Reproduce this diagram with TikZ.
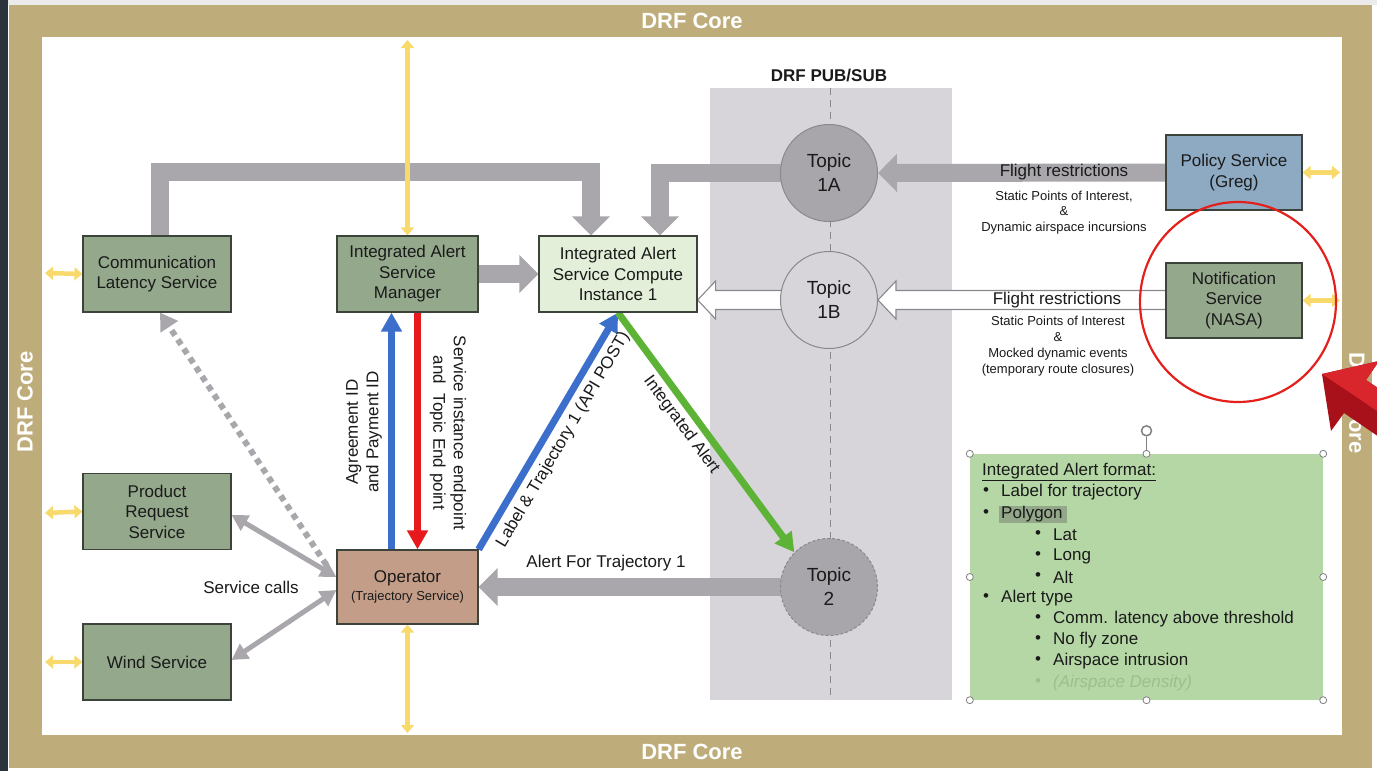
\documentclass[tikz,border=0pt]{standalone}
\usepackage{fontspec}
\setmainfont{Liberation Sans}
\usetikzlibrary{arrows.meta,calc,shapes.geometric}
\pgfdeclarelayer{back}
\pgfdeclarelayer{mid}
\pgfsetlayers{back,mid,main}
\definecolor{gold}{HTML}{BEAD7A}
\definecolor{darkbg}{HTML}{2B333D}
\definecolor{pubsub}{HTML}{D7D4DA}
\definecolor{svcfill}{HTML}{94A88C}
\definecolor{computefill}{HTML}{E3EFD9}
\definecolor{policyfill}{HTML}{8EAAC2}
\definecolor{opfill}{HTML}{C39D87}
\definecolor{boxline}{HTML}{3C433A}
\definecolor{txt}{HTML}{1A1A1A}
\definecolor{arrgray}{HTML}{A9A7AB}
\definecolor{topicdark}{HTML}{A8A6AB}
\definecolor{topicline}{HTML}{8A888D}
\definecolor{blu}{HTML}{3B6FCB}
\definecolor{redarr}{HTML}{E8191C}
\definecolor{grn}{HTML}{5CB335}
\definecolor{yel}{HTML}{F8DA6C}
\definecolor{notefill}{HTML}{B5D7A5}
\definecolor{polyhl}{HTML}{92A889}
\definecolor{faint}{HTML}{9DBF8E}
\definecolor{circred}{HTML}{E3201C}
\definecolor{arrowred}{HTML}{A8111A}
\definecolor{arrowredlt}{HTML}{D8262C}
\newcommand\bxfont{\fontsize{17}{20.5}\selectfont}
\newcommand\smfont{\fontsize{13}{15.8}\selectfont}
\newcommand\tpfont{\fontsize{19}{24}\selectfont}
\newcommand\hollowleft[2]{\draw[hollowst] let \p1=#1, \p2=#2 in (\x1,\y2+9.5pt) -- (\x2+18pt,\y2+9.5pt) -- (\x2+18pt,\y2+19pt) -- (\x2,\y2) -- (\x2+18pt,\y2-19pt) -- (\x2+18pt,\y2-9.5pt) -- (\x1,\y2-9.5pt);}
\begin{document}
\begin{tikzpicture}[x=1pt,y=-1pt,
  svc/.style={draw=boxline, line width=1.2pt, fill=svcfill, align=center, inner sep=0pt,
    minimum width=148pt, minimum height=76pt, font=\bxfont, text=txt},
  topic/.style={circle, draw=topicline, line width=1pt, minimum size=97pt, inner sep=0pt,
    align=center, font=\tpfont, text=txt},
  lbl/.style={font=\bxfont, text=txt, inner sep=1pt, align=center},
  smlbl/.style={font=\smfont, text=txt, inner sep=0pt, align=center},
  frlbl/.style={font=\fontsize{22}{26}\selectfont\bfseries, text=white, inner sep=0pt},
  garrow/.style={draw=arrgray, line width=18pt, -{Triangle[length=19pt,width=37pt]}, line join=miter},
  hollowst/.style={draw=topicline, line width=1.1pt, fill=white, line join=miter},
  barrow/.style={line width=7pt, -{Triangle[length=19pt,width=20pt]}},
  darrow/.style={draw=arrgray, line width=6pt, dash pattern=on 6pt off 5pt, -{Triangle[length=17pt,width=20pt]}},
  scarrow/.style={draw=arrgray, line width=5pt, {Triangle[length=16pt,width=17pt]}-{Triangle[length=16pt,width=17pt]}},
  yarrow/.style={draw=yel, line width=4.5pt, {Triangle[length=8pt,width=13pt]}-{Triangle[length=8pt,width=13pt]}},
  item/.style={anchor=west, font=\bxfont, text=txt, inner sep=0pt},
  handle/.style={circle, draw=gray, fill=white, line width=0.8pt, inner sep=0pt, minimum size=7pt}
]
\useasboundingbox (0,0) rectangle (1377,771);
\clip (0,0) rectangle (1377,771);

\begin{pgfonlayer}{back}
  \fill[white] (0,0) rectangle (1377,771);
  \fill[black!8] (0,0) rectangle (1377,5);
  \fill[darkbg] (0,0) rectangle (8,771);
  \fill[gold] (9,5) rectangle (1372,768);
  \fill[white] (42,37) rectangle (1342,735);
  \fill[pubsub] (710,88) rectangle (952,700);
  \draw[topicline, line width=1pt, dash pattern=on 7pt off 5pt] (830,88) -- (830,700);
\end{pgfonlayer}

% frame labels
\node[frlbl] (ftop) at (692,21) {DRF Core};
\node[frlbl] (fbot) at (692,752) {DRF Core};
\node[frlbl, rotate=90] (fleft) at (25,402) {DRF Core};
\node[frlbl, rotate=-90] (fright) at (1357,403) {DRF Core};
\node[font=\fontsize{17}{20}\selectfont\bfseries, text=txt, inner sep=0pt] (pstitle) at (829,76) {DRF PUB/SUB};

% service boxes
\node[svc] (cls) at (157,274) {Communication\\Latency Service};
\node[svc, minimum width=141pt] (mgr) at (407.5,274) {Integrated Alert\\Service\\Manager};
\node[svc, fill=computefill, minimum width=158pt] (ci) at (618,274) {Integrated Alert\\Service Compute\\Instance 1};
\node[svc, fill=policyfill, minimum width=136pt, minimum height=75pt] (ps) at (1234,172.5) {Policy Service\\(Greg)};
\node[svc, minimum width=136pt, minimum height=75pt] (ns) at (1234,300.5) {Notification\\Service\\(NASA)};
\node[svc] (prs) at (157,511.5) {Product\\Request\\Service};
\node[svc] (ws) at (157,662) {Wind Service};
\node[svc, fill=opfill, minimum width=141pt, minimum height=74pt] (op) at (407.5,587)
  {Operator\\[-3pt]{\smfont(Trajectory Service)}};

% topics
\node[topic, fill=topicdark] (t1a) at (829,173) {Topic\\1A};
\node[topic, fill=pubsub] (t1b) at (829,300) {Topic\\1B};
\node[topic, fill=topicdark, dashed, dash pattern=on 3pt off 2pt] (t2) at (829,587) {Topic\\2};

% coordinates for free ends
\coordinate (ytop) at (407.5,40);
\coordinate (ybot) at (407.5,733);
\coordinate (ycls) at (45,273);
\coordinate (yprs) at (45,513);
\coordinate (yws) at (45,662);
\coordinate (yps) at (1340,172.5);
\coordinate (yns) at (1340,300.5);

\begin{pgfonlayer}{mid}
  % thick gray arrows
  \draw[garrow] ($(cls.north)+(3,0)$) -- ++(0,-63) -| ($(ci.north)+(-27,0)$);
  \draw[garrow] (t1a.center) -| ($(ci.north)+(42,0)$);
  \draw[garrow] (ps.west) -- (t1a.east);
  \draw[garrow] (mgr.east) -- (ci.west);
  \draw[garrow] (t2.center) -- (op.east);
  % hollow arrows
  \hollowleft{(ns.west)}{(t1b.east)}
  \hollowleft{(t1b.center)}{(t1b.center -| ci.east)}
  % blue / red
  \draw[barrow, draw=blu] ($(op.north)+(-16,0)$) -- ($(mgr.south)+(-16,0)$);
  \draw[barrow, draw=redarr] ($(mgr.south)+(10,0)$) -- ($(op.north)+(10,0)$);
  \draw[barrow, draw=blu] (op.north east) -- (ci.south)
    node[midway, sloped, below=5pt, font=\bxfont, text=txt, inner sep=1pt] (lbltraj) {Label \& Trajectory 1 (API POST)};
  \draw[barrow, draw=grn] (ci.south) -- (t2.north west)
    node[pos=0.43, sloped, below=3pt, font=\bxfont, text=txt, inner sep=1pt] (lblia) {Integrated Alert};
  % service calls
  \draw[darrow] ($(op.west)+(-10,-22)$) -- ($(cls.south)+(3,0)$);
  \draw[scarrow] ($(op.west)+(0,-10)$) -- ($(prs.east)+(0,3.5)$);
  \draw[scarrow] ($(op.west)+(0,3)$) -- ($(ws.east)+(0,-2)$);
  % yellow arrows
  \draw[yarrow] (ytop) -- (mgr.north);
  \draw[yarrow] (op.south) -- (ybot);
  \draw[yarrow] (ycls) -- (cls.west);
  \draw[yarrow] (yprs) -- (prs.west);
  \draw[yarrow] (yws) -- (ws.west);
  \draw[yarrow] (ps.east) -- (yps);
  \draw[yarrow] (ns.east) -- (yns);
\end{pgfonlayer}

% labels
\node[lbl] (fr1) at (1064,172) {Flight restrictions};
\node[smlbl] (fr1s) at (1064,212.5) {Static Points of Interest,\\\&\\Dynamic airspace incursions};
\node[lbl] (fr2) at (1057,300) {Flight restrictions};
\node[smlbl] (fr2s) at (1058,346) {Static Points of Interest\\\&\\Mocked dynamic events\\(temporary route closures)};
\node[lbl] (aft) at (606,563) {Alert For Trajectory 1};
\node[lbl] (sc) at (251,587) {Service calls};
\node[lbl, rotate=90] (agr) at (364,432) {Agreement ID\\and Payment ID};
\node[lbl, rotate=-90] (sie) at (448,433) {Service instance endpoint\\and\ \ Topic End point};

% note box
\node[fill=notefill, minimum width=353pt, minimum height=246pt, inner sep=0pt] (nb) at (1146.5,577) {};
\fill[polyhl] (999,506) rectangle (1067,523);
\node[item] (n0) at (982,472) {\underline{Integrated Alert format:}};
\node[item] (b1) at (983,492) {•}; \node[item] (n1) at (1001,492) {Label for trajectory};
\node[item] (b2) at (983,514) {•}; \node[item] (n2) at (1001,514) {Polygon};
\node[item] (b3) at (1035,535) {•}; \node[item] (n3) at (1053,535) {Lat};
\node[item] (b4) at (1035,556) {•}; \node[item] (n4) at (1053,556) {Long};
\node[item] (b5) at (1035,577) {•}; \node[item] (n5) at (1053,577) {Alt};
\node[item] (b6) at (983,598) {•}; \node[item] (n6) at (1001,598) {Alert type};
\node[item] (b7) at (1035,619) {•}; \node[item] (n7) at (1053,619) {Comm. latency above threshold};
\node[item] (b8) at (1035,640) {•}; \node[item] (n8) at (1053,640) {No fly zone};
\node[item] (b9) at (1035,661) {•}; \node[item] (n9) at (1053,661) {Airspace intrusion};
\node[item, text=faint] (b10) at (1035,683) {•}; \node[item, text=faint] (n10) at (1053,683) {\itshape(Airspace Density)};
% selection handles
\draw[gray, line width=0.8pt] (nb.north) -- ++(0,-17);
\draw[gray, line width=1.5pt] ($(nb.north)+(0,-23)$) circle[radius=5pt];
\foreach \a in {north west,north,north east,west,east,south west,south,south east}
  \node[handle] at (nb.\a) {};

% red highlight circle
\draw[circred, line width=2.2pt] (1238,302) ellipse[x radius=98pt, y radius=100pt];

% red 3D arrow (pointing up-left at the circle)
\fill[arrowred] (1322,374) -- (1379,361) -- (1366,380) -- (1449,436) -- (1426,469) -- (1344,413) -- (1331,431) -- cycle;
\fill[arrowredlt] (1322,374) -- (1379,361) -- (1366,380) -- (1449,436) -- (1437,452) -- (1355,396) -- cycle;
\end{tikzpicture}
\end{document}
